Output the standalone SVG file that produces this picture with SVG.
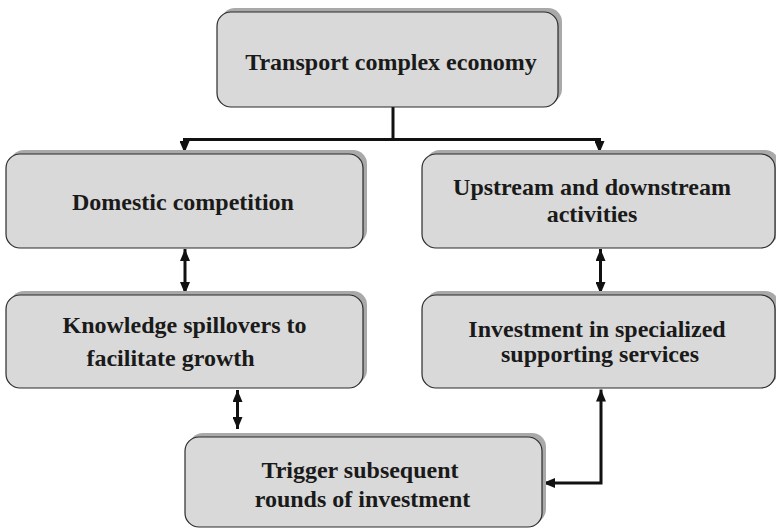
<svg xmlns="http://www.w3.org/2000/svg" width="776" height="529" viewBox="0 0 776 529">
  <defs>
    <marker id="tip" viewBox="0 0 12 10" refX="12" refY="5" markerWidth="12" markerHeight="10" orient="auto-start-reverse" markerUnits="userSpaceOnUse">
      <path d="M0,0 L12,5 L0,10 Z" fill="#111"/>
    </marker>
  </defs>
  <style>
    .shadow { fill: #a9a9a9; }
    .box { fill: #d9d9d9; stroke: #2b2b2b; stroke-width: 1.2; }
    .label { font-family: "Liberation Serif", "Times New Roman", serif; font-weight: bold; font-size: 24px; fill: #1a1a1a; text-anchor: middle; }
    .link { fill: none; stroke: #111; stroke-width: 3; }
  </style>
  <rect width="776" height="529" fill="#ffffff"/>

  <g id="connectors">
    <!-- top split -->
    <path class="link" d="M393,107 V139.5"/>
    <path class="link" d="M394.5,139.5 H184.5 V153" marker-end="url(#tip)"/>
    <path class="link" d="M391.5,139.5 H599.5 V153" marker-end="url(#tip)"/>
    <!-- vertical two-way links -->
    <path class="link" d="M185,249 V294" marker-start="url(#tip)" marker-end="url(#tip)"/>
    <path class="link" d="M600.5,249 V294" marker-start="url(#tip)" marker-end="url(#tip)"/>
    <path class="link" d="M237.5,390 V429" marker-start="url(#tip)" marker-end="url(#tip)"/>
    <!-- elbow into the bottom box -->
    <path class="link" d="M543,483 H601 V389.5" marker-start="url(#tip)" marker-end="url(#tip)"/>
  </g>

  <g id="transport">
    <rect class="shadow" x="221" y="8" width="341" height="95" rx="14"/>
    <rect class="box" x="217" y="12" width="341" height="95" rx="14"/>
    <text class="label" x="391" y="70">Transport complex economy</text>
  </g>

  <g id="domestic">
    <rect class="shadow" x="10" y="150" width="357" height="94" rx="14"/>
    <rect class="box" x="6" y="154" width="357" height="94" rx="14"/>
    <text class="label" x="183" y="210">Domestic competition</text>
  </g>

  <g id="upstream">
    <rect class="shadow" x="426" y="150" width="353" height="94" rx="14"/>
    <rect class="box" x="422" y="154" width="353" height="94" rx="14"/>
    <text class="label" x="592" y="195">Upstream and downstream</text>
    <text class="label" x="592" y="222">activities</text>
  </g>

  <g id="knowledge">
    <rect class="shadow" x="10" y="291" width="357" height="93" rx="14"/>
    <rect class="box" x="6" y="295" width="357" height="93" rx="14"/>
    <text class="label" x="184.5" y="333">Knowledge spillovers to</text>
    <text class="label" x="170.5" y="366">facilitate growth</text>
  </g>

  <g id="investment">
    <rect class="shadow" x="426" y="291" width="353" height="93" rx="14"/>
    <rect class="box" x="422" y="295" width="353" height="93" rx="14"/>
    <text class="label" x="597" y="337">Investment in specialized</text>
    <text class="label" x="600" y="362">supporting services</text>
  </g>

  <g id="trigger">
    <rect class="shadow" x="189" y="433" width="357" height="90" rx="14"/>
    <rect class="box" x="185" y="437" width="357" height="90" rx="14"/>
    <text class="label" x="360" y="478">Trigger subsequent</text>
    <text class="label" x="362.5" y="507">rounds of investment</text>
  </g>
</svg>
